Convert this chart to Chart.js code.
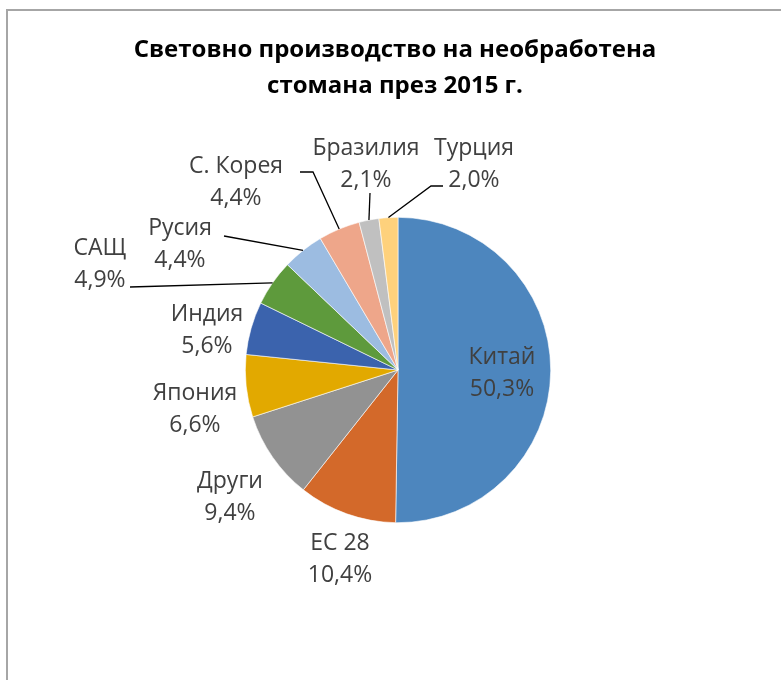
<!DOCTYPE html>
<html lang="bg">
<head>
  <meta charset="utf-8" />
  <title>Световно производство на необработена стомана</title>
  <script src="https://cdn.jsdelivr.net/npm/chart.js@4"></script>
  <style>
    body { margin: 0; background: #fff; }
    #chart { display: block; }
  </style>
</head>
<body>
  <canvas id="chart" width="781" height="680"></canvas>
  <script>
    // data
    const titleLines = ['Световно производство на необработена', 'стомана през 2015 г.'];
    const countries = ['Китай', 'ЕС 28', 'Други', 'Япония', 'Индия', 'САЩ', 'Русия', 'С. Корея', 'Бразилия', 'Турция'];
    const shares = [50.3, 10.4, 9.4, 6.6, 5.6, 4.9, 4.4, 4.4, 2.1, 2.0];
    const sliceColors = ['#4d86be', '#d3692a', '#929292', '#e2a900', '#3b63ad', '#5e9a3c',
      '#9cbce1', '#eea68a', '#c0c0c0', '#fed17c'];

    // where each label sits (text centre of first line) and its leader line start
    const labelPos = [
      { x: 502, y: 357 },
      { x: 340, y: 543 },
      { x: 230, y: 481 },
      { x: 195, y: 393 },
      { x: 207, y: 314 },
      { x: 100, y: 248, lead: [[130, 287]] },
      { x: 180, y: 228, lead: [[224, 236]] },
      { x: 236, y: 166, lead: [[300, 172], [313, 172]] },
      { x: 366, y: 148, lead: [[370, 193]] },
      { x: 474, y: 148, lead: [[443, 186], [431, 186]] }
    ];

    const fmt = v => v.toFixed(1).replace('.', ',') + '%';

    const decor = {
      id: 'decor',
      afterDraw(chart) {
        const ctx = chart.ctx;
        ctx.save();
        // frame
        ctx.strokeStyle = '#a6a6a6';
        ctx.lineWidth = 2;
        ctx.beginPath();
        ctx.moveTo(7, 680);
        ctx.lineTo(7, 10);
        ctx.lineTo(781, 10);
        ctx.stroke();

        // title
        ctx.fillStyle = '#000';
        ctx.font = 'bold 24px "Open Sans"';
        ctx.textAlign = 'center';
        ctx.textBaseline = 'middle';
        ctx.fillText(titleLines[0], 395, 50);
        ctx.fillText(titleLines[1], 395, 86);

        // labels + leader lines
        const arcs = chart.getDatasetMeta(0).data;
        ctx.font = '23px "Open Sans"';
        ctx.fillStyle = '#404040';
        arcs.forEach((arc, i) => {
          const p = labelPos[i];
          if (p.lead) {
            const mid = (arc.startAngle + arc.endAngle) / 2;
            const ex = arc.x + Math.cos(mid) * arc.outerRadius;
            const ey = arc.y + Math.sin(mid) * arc.outerRadius;
            ctx.strokeStyle = '#000';
            ctx.lineWidth = 1.3;
            ctx.beginPath();
            ctx.moveTo(p.lead[0][0], p.lead[0][1]);
            p.lead.slice(1).forEach(q => ctx.lineTo(q[0], q[1]));
            ctx.lineTo(ex, ey);
            ctx.stroke();
          }
          ctx.fillText(countries[i], p.x, p.y);
          ctx.fillText(fmt(shares[i]), p.x, p.y + 32);
        });
        ctx.restore();
      }
    };

    new Chart(document.getElementById('chart'), {
      type: 'pie',
      data: {
        labels: countries,
        datasets: [{
          data: shares,
          backgroundColor: sliceColors,
          borderColor: '#ffffff',
          borderWidth: 0.6
        }]
      },
      options: {
        responsive: false,
        animation: false,
        devicePixelRatio: 1,
        layout: { padding: { left: 245, right: 230, top: 217, bottom: 157 } },
        plugins: {
          legend: { display: false },
          tooltip: { enabled: false },
          title: { display: false }
        }
      },
      plugins: [decor]
    });
  </script>
</body>
</html>
